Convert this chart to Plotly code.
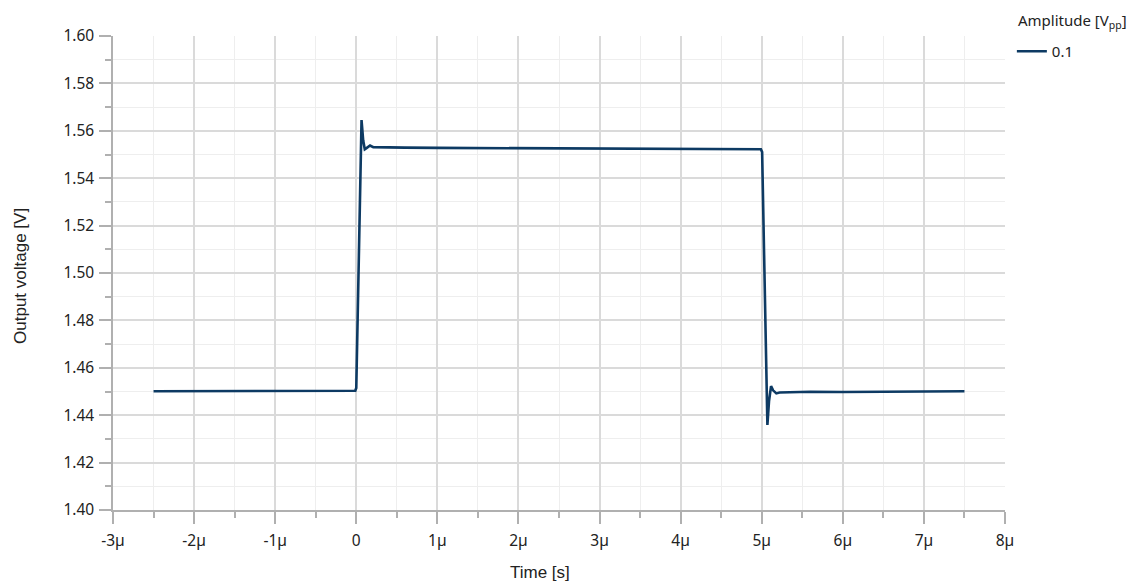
import plotly.graph_objects as go

# Time in microseconds
time_us = [-2.5, -2.0, -1.5, -1.0, -0.5, -0.2, -0.012, 0.0, 0.035, 0.065, 0.085, 0.105,
           0.13, 0.17, 0.21, 0.3, 0.6, 1.0, 1.5, 2.0, 2.5, 3.0, 3.5, 4.0, 4.5, 4.9, 4.99,
           5.005, 5.02, 5.05, 5.07, 5.09, 5.115, 5.14, 5.18, 5.22, 5.3, 5.6, 6.0, 6.5, 7.0, 7.5]
voltage = [1.4501, 1.4501, 1.4502, 1.4501, 1.4502, 1.4502, 1.4503, 1.4515, 1.5100, 1.5645,
           1.5560, 1.5522, 1.5528, 1.5538, 1.5531, 1.5530, 1.5529, 1.5528, 1.5527, 1.5526,
           1.5525, 1.5525, 1.5524, 1.5524, 1.5523, 1.5523, 1.5522, 1.5510, 1.5200, 1.4600,
           1.4359, 1.4460, 1.4523, 1.4505, 1.4492, 1.4496, 1.4497, 1.4499, 1.4498, 1.4500,
           1.4501, 1.4501]

series_name = "0.1"
legend_title = "Amplitude [V<sub>pp</sub>]"
x_tickvals = [-3, -2, -1, 0, 1, 2, 3, 4, 5, 6, 7, 8]
x_ticktext = ["-3µ", "-2µ", "-1µ", "0", "1µ", "2µ", "3µ", "4µ", "5µ", "6µ", "7µ", "8µ"]
y_tickvals = [1.40, 1.42, 1.44, 1.46, 1.48, 1.50, 1.52, 1.54, 1.56, 1.58, 1.60]

fig = go.Figure()
fig.add_trace(go.Scatter(
    x=time_us, y=voltage, mode="lines", name=series_name,
    line=dict(color="#0d3a63", width=2.6),
))

tick_font = dict(family="Noto Sans, Open Sans, sans-serif", size=15.5, color="#222")
title_font = dict(family="Liberation Sans, Arial, sans-serif", size=17, color="#222")
legend_font = dict(family="Noto Sans, sans-serif", size=15, color="#222")
axis_col = "#b0b0b0"

fig.update_layout(
    width=1135, height=579,
    margin=dict(l=105, r=138, t=28, b=77, autoexpand=False),
    plot_bgcolor="white", paper_bgcolor="white",
    showlegend=True,
    legend=dict(
        font=legend_font,
        x=1.0077, y=1.002, xanchor="left", yanchor="top",
        itemwidth=30,
        bgcolor="rgba(0,0,0,0)",
    ),
    xaxis=dict(
        automargin=False,
        range=[-3, 8], tickvals=x_tickvals, ticktext=x_ticktext,
        tickfont=tick_font, ticklabelstandoff=4,
        showline=True, linecolor=axis_col, linewidth=1.5,
        ticks="outside", ticklen=12, tickcolor=axis_col, tickwidth=1.5,
        showgrid=True, gridcolor="#dadada", gridwidth=1.5,
        minor=dict(dtick=0.5, ticks="outside", ticklen=6, tickcolor=axis_col,
                   showgrid=True, gridcolor="#eeeeee", gridwidth=1),
        zeroline=False,
    ),
    yaxis=dict(
        automargin=False,
        range=[1.40, 1.60], tickvals=y_tickvals, tickformat=".2f",
        tickfont=tick_font, ticklabelstandoff=2,
        showline=True, linecolor=axis_col, linewidth=1.5,
        ticks="outside", ticklen=12, tickcolor=axis_col, tickwidth=1.5,
        showgrid=True, gridcolor="#dadada", gridwidth=1.5,
        minor=dict(dtick=0.01, ticks="outside", ticklen=6, tickcolor=axis_col,
                   showgrid=True, gridcolor="#eeeeee", gridwidth=1),
        zeroline=False,
    ),
    annotations=[
        dict(text="Time [s]", xref="paper", yref="paper", x=0.4787, y=-0.132,
             xanchor="center", yanchor="middle", showarrow=False, font=title_font),
        dict(text="Output voltage [V]", xref="paper", yref="paper", x=-0.103, y=0.494,
             xanchor="center", yanchor="middle", textangle=-90, showarrow=False,
             font=title_font),
        dict(text=legend_title, xref="paper", yref="paper", x=1.012, y=(510 - 21) / 474,
             xanchor="left", yanchor="middle", showarrow=False, font=legend_font),
    ],
)

fig.write_html("out.html")
